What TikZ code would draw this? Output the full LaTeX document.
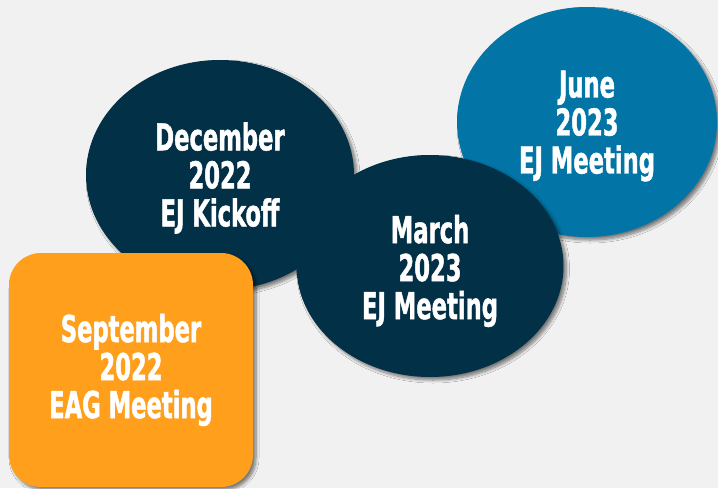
\documentclass[tikz,border=0pt]{standalone}
\usepackage{fontspec}
\usepackage{tikz}
\usetikzlibrary{shapes.geometric,shadows.blur}
\newfontfamily\datefont{DejaVu Sans Condensed Bold}[FakeStretch=0.68,FakeBold=1.2]
\definecolor{paper}{HTML}{F1F1F1}
\definecolor{deepnavy}{HTML}{023047}
\definecolor{seablue}{HTML}{0275A6}
\definecolor{warmorange}{HTML}{FF9F1C}

\begin{document}
\begin{tikzpicture}[x=1pt,y=-1pt,
    datetext/.style={text=white,align=center,inner sep=0pt,
      font=\datefont\fontsize{37}{38}\selectfont},
    softshadow/.style={blur shadow={shadow xshift=3pt,shadow yshift=-3pt,
      shadow blur radius=3pt,shadow blur steps=8,shadow opacity=50}},
    milestone/.style={ellipse,draw=none,softshadow},
    eagbox/.style={rectangle,rounded corners=32pt,draw=none,softshadow}]
        \fill[paper] (0,0) rectangle (718,488);
        \useasboundingbox (0,0) rectangle (718,488);
        % shapes, back to front
        \node[milestone,fill=seablue,minimum width=260pt,minimum height=230pt] (jun) at (587,122) {};
        \node[milestone,fill=deepnavy,minimum width=268pt,minimum height=230pt] (dec) at (220,175) {};
        \node[milestone,fill=deepnavy,minimum width=267pt,minimum height=222pt] (mar) at (430,266) {};
        \node[eagbox,fill=warmorange,minimum width=244pt,minimum height=234pt] (sep) at (131,370) {};
        % labels
        \node[datetext,yshift=-4pt] (jun-text) at (jun) {June\\2023\\EJ Meeting};
        \node[datetext,yshift=-3pt] (dec-text) at (dec) {December\\2022\\EJ Kickoff};
        \node[datetext,yshift=-5pt] (mar-text) at (mar) {March\\2023\\EJ Meeting};
        \node[datetext] (sep-text) at (sep) {September\\2022\\EAG Meeting};
      \end{tikzpicture}
\end{document}
